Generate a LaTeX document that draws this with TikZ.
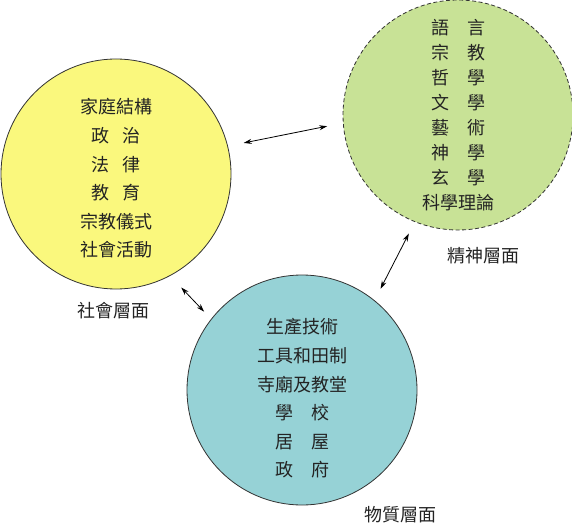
\documentclass[tikz,border=0pt]{standalone}
\usepackage{fontspec}
\newfontfamily\cjk{Noto Sans CJK TC}
\usepackage{tikz}
\usetikzlibrary{arrows.meta,positioning,calc}
\definecolor{SocYellow}{RGB}{250,248,125}
\definecolor{SpiGreen}{RGB}{200,226,150}
\definecolor{MatBlue}{RGB}{150,210,214}
\definecolor{TxtGray}{RGB}{35,35,35}
\tikzset{
  layer/.style={circle, minimum size=230pt, inner sep=0pt, draw=black!80, line width=0.8pt},
  layertext/.style={align=center, text=TxtGray, font=\cjk\fontsize{18}{28.6}\selectfont},
  layername/.style={text=TxtGray, font=\cjk\fontsize{18}{22}\selectfont},
  link/.style={{Stealth[length=8pt,width=5pt]}-{Stealth[length=8pt,width=5pt]}, line width=0.8pt, black}
}
\begin{document}
\begin{tikzpicture}[x=1pt,y=-1pt]
    \useasboundingbox[fill=white] (0,0) rectangle (572,529);
    \node[layer, fill=SocYellow] (social) at (116,174) {};
    \node[layer, fill=SpiGreen, dash pattern=on 4pt off 2.5pt] (spirit) at (458,115) {};
    \node[layer, fill=MatBlue] (material) at (302,390) {};
    \node[layertext] (socialtext) at (116,178.5) {家庭結構\\政\hspace{0.7em}治\\法\hspace{0.7em}律\\教\hspace{0.7em}育\\宗教儀式\\社會活動};
    \node[layertext, font=\cjk\fontsize{18}{25}\selectfont] (spirittext) at (458,115.5) {語　言\\宗　教\\哲　學\\文　學\\藝　術\\神　學\\玄　學\\科學理論};
    \node[layertext] (materialtext) at (302,398.5) {生產技術\\工具和田制\\寺廟及教堂\\學　校\\居　屋\\政　府};
    \node[layername] (sociallabel) at (113,311) {社會層面};
    \node[layername] (spiritlabel) at (483,256) {精神層面};
    \node[layername] (materiallabel) at (400,515) {物質層面};
    \draw[link, shorten <=16pt, shorten >=16pt] (social.14) -- (spirit.184);
    \draw[link, shorten <=16pt, shorten >=10pt] (social.298) -- (material.142.5);
    \draw[link, shorten <=13pt, shorten >=13pt] (spirit.248) -- (material.51);
\end{tikzpicture}
\end{document}
